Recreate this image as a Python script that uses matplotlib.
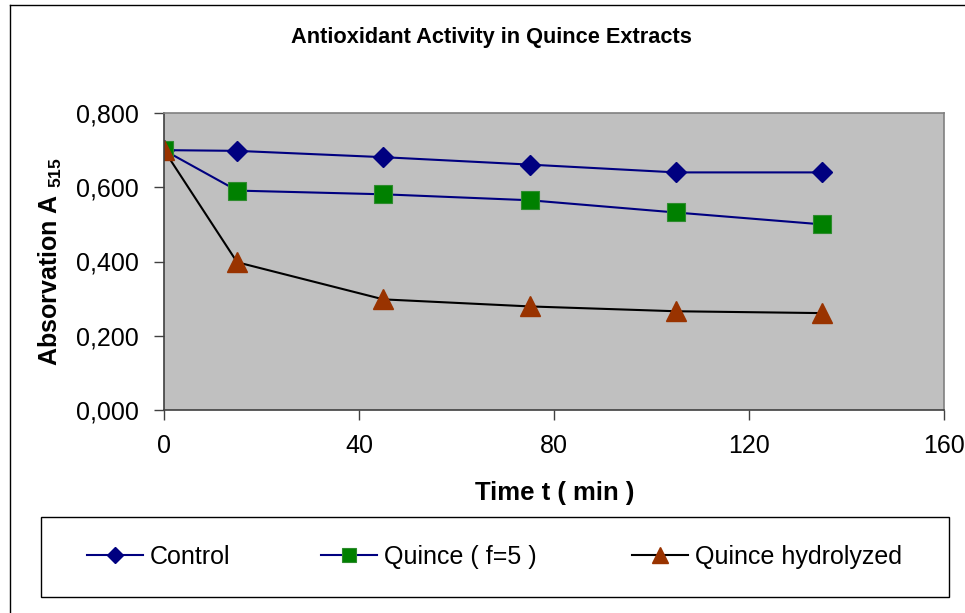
import matplotlib
matplotlib.use('Agg')
import matplotlib.pyplot as plt
from matplotlib.lines import Line2D
from matplotlib.patches import Rectangle
from matplotlib.ticker import FuncFormatter

plt.rcParams['font.family'] = ['Liberation Sans', 'DejaVu Sans']
plt.rcParams['mathtext.fontset'] = 'custom'
plt.rcParams['mathtext.rm'] = 'Liberation Sans'
plt.rcParams['mathtext.default'] = 'regular'

# Data
time_min = [0, 15, 45, 75, 105, 135]
control = [0.700, 0.698, 0.681, 0.661, 0.640, 0.640]
quince_f5 = [0.700, 0.591, 0.581, 0.565, 0.532, 0.500]
quince_hydrolyzed = [0.700, 0.398, 0.298, 0.279, 0.266, 0.261]

series_labels = ['Control', 'Quince ( f=5 )', 'Quince hydrolyzed']
x_ticks = [0, 40, 80, 120, 160]
y_ticks = [0.0, 0.2, 0.4, 0.6, 0.8]

W, H = 965, 613
fig = plt.figure(figsize=(W / 100, H / 100), dpi=100)
ax = fig.add_axes([164 / W, 1 - 410 / H, (944 - 164) / W, (410 - 113) / H])
ax.set_facecolor('#C0C0C0')

l1, = ax.plot(time_min, control, color='#000080', lw=1.5, marker='D', ms=10,
              mfc='#000080', mec='#000080', label=series_labels[0])
l2, = ax.plot(time_min, quince_f5, color='#000080', lw=1.5, marker='s', ms=13,
              mfc='#008000', mec='#2e8b2e', mew=0.8, label=series_labels[1])
l3, = ax.plot(time_min, quince_hydrolyzed, color='black', lw=1.5, marker='^', ms=15,
              mfc='#993300', mec='#993300', label=series_labels[2])

ax.set_xlim(0, 160)
ax.set_ylim(0, 0.8)
ax.set_xticks(x_ticks)
ax.set_yticks(y_ticks)
ax.yaxis.set_major_formatter(FuncFormatter(lambda v, p: f'{v:.3f}'.replace('.', ',')))
ax.tick_params(direction='out', length=7, width=1, labelsize=18, color='#404040')
ax.tick_params(axis='x', pad=10)
ax.tick_params(axis='y', pad=11)
for side in ['top', 'right']:
    ax.spines[side].set_color('#808080')
for side in ['left', 'bottom']:
    ax.spines[side].set_color('#404040')
for s in ax.spines.values():
    s.set_linewidth(1.2)

fig.text(491 / W, 1 - 37 / H, 'Antioxidant Activity in Quince Extracts',
         ha='center', va='center', fontsize=15.7, fontweight='bold')
fig.text(50 / W, 1 - 262 / H, 'Absorvation A $_{515}$', rotation=90,
         ha='center', va='center', fontsize=18, fontweight='bold')
fig.text(555 / W, 1 - 493 / H, 'Time t ( min )',
         ha='center', va='center', fontsize=18.5, fontweight='bold')

# figure border
fig.add_artist(Line2D([9.5 / W, 9.5 / W], [0, 1 - 5 / H], color='black', lw=1,
                      transform=fig.transFigure))
fig.add_artist(Line2D([9.5 / W, 1], [1 - 5 / H, 1 - 5 / H], color='black', lw=1,
                      transform=fig.transFigure))

# legend box
fig.add_artist(Rectangle((41 / W, 1 - 597 / H), (949 - 41) / W, (597 - 517) / H,
                         transform=fig.transFigure, fill=False, ec='black', lw=1))
for line, x0 in zip([l1, l2, l3], [87, 321, 632]):
    fig.legend(handles=[line], loc='center left',
               bbox_to_anchor=(x0 / W, 1 - 557 / H), frameon=False,
               fontsize=18, handlelength=2.24, handletextpad=0.28,
               borderpad=0, borderaxespad=0, markerscale=0.8)

fig.savefig('out.png', dpi=100)
